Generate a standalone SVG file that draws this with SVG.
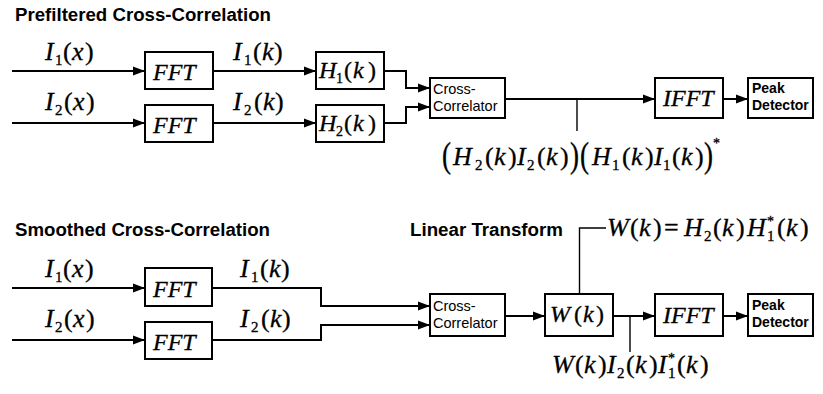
<svg xmlns="http://www.w3.org/2000/svg" width="823" height="394" viewBox="0 0 823 394">
<style>
.bg{fill:#fff}
.box{fill:#fff;stroke:#000;stroke-width:2}
.ln{fill:none;stroke:#000;stroke-width:2}
.tap{fill:none;stroke:#000;stroke-width:1.4}
.title{font-family:"Liberation Sans",Arial,sans-serif;font-weight:bold;font-size:17.5px;fill:#000}
.cc{font-family:"Liberation Sans",Arial,sans-serif;font-size:14.5px;fill:#000}
.pd{font-family:"Liberation Sans",Arial,sans-serif;font-weight:bold;font-size:14px;fill:#000}
.m{font-family:"Liberation Serif","Times New Roman",serif;font-style:italic;font-size:26px;fill:#000;stroke:#000;stroke-width:0.3}
.b{font-family:"Liberation Serif","Times New Roman",serif;font-style:italic;font-size:24px;fill:#000;stroke:#000;stroke-width:0.3}
.u{font-style:normal}
.s{font-style:normal;font-size:15px}
.st{font-style:normal;font-size:14px}
.bp{font-family:"Liberation Serif","Times New Roman",serif;font-size:27px;fill:#000;stroke:#000;stroke-width:0.3}
</style>
<defs>
<marker id="ah" markerUnits="userSpaceOnUse" markerWidth="12" markerHeight="10" refX="12" refY="4.5" orient="auto" viewBox="0 0 12 9">
<path d="M0,0 L12,4.5 L0,9 z" fill="#000"/>
</marker>
</defs>
<rect class="bg" x="0" y="0" width="823" height="394"/>

<text class="title" x="15" y="21" textLength="256" lengthAdjust="spacingAndGlyphs">Prefiltered Cross-Correlation</text>
<text class="title" x="15" y="236" textLength="255" lengthAdjust="spacingAndGlyphs">Smoothed Cross-Correlation</text>
<text class="title" x="410" y="236" textLength="153" lengthAdjust="spacingAndGlyphs">Linear Transform</text>

<g id="connectors">
<path class="ln" d="M12,71 H145" marker-end="url(#ah)"/>
<path class="ln" d="M12,123 H145" marker-end="url(#ah)"/>
<path class="ln" d="M213,71 H316" marker-end="url(#ah)"/>
<path class="ln" d="M213,123 H316" marker-end="url(#ah)"/>
<path class="ln" d="M384,71 H406 V88 H430" marker-end="url(#ah)"/>
<path class="ln" d="M384,123 H406 V107 H430" marker-end="url(#ah)"/>
<path class="ln" d="M505,99 H655" marker-end="url(#ah)"/>
<path class="ln" d="M723,99 H748" marker-end="url(#ah)"/>
<path class="tap" d="M577,99 V131"/>

<path class="ln" d="M12,288 H145" marker-end="url(#ah)"/>
<path class="ln" d="M12,340 H145" marker-end="url(#ah)"/>
<path class="ln" d="M212,288 H321 V306 H430" marker-end="url(#ah)"/>
<path class="ln" d="M212,340 H321 V325 H430" marker-end="url(#ah)"/>
<path class="ln" d="M505,316 H545" marker-end="url(#ah)"/>
<path class="ln" d="M613,316 H655" marker-end="url(#ah)"/>
<path class="ln" d="M723,316 H748" marker-end="url(#ah)"/>
<path class="tap" d="M630,316 V352"/>
<path class="tap" d="M579.5,294 V228 H606"/>
</g>

<g id="lbl-top-i1x"><text class="m" y="60"><tspan x="45">I</tspan><tspan class="s" x="55" dy="5">1</tspan><tspan class="u" x="63" dy="-5">(</tspan><tspan x="72">x</tspan><tspan class="u" x="85">)</tspan></text></g>
<g id="lbl-top-i2x"><text class="m" y="110"><tspan x="45">I</tspan><tspan class="s" x="55" dy="5">2</tspan><tspan class="u" x="64" dy="-5">(</tspan><tspan x="73">x</tspan><tspan class="u" x="86">)</tspan></text></g>
<g id="lbl-top-i1k"><text class="m" y="60"><tspan x="233">I</tspan><tspan class="s" x="244" dy="5">1</tspan><tspan class="u" x="253" dy="-5">(</tspan><tspan x="262">k</tspan><tspan class="u" x="274">)</tspan></text></g>
<g id="lbl-top-i2k"><text class="m" y="110"><tspan x="233">I</tspan><tspan class="s" x="244" dy="5">2</tspan><tspan class="u" x="254" dy="-5">(</tspan><tspan x="263">k</tspan><tspan class="u" x="275">)</tspan></text></g>

<g id="fft1"><rect class="box" x="145" y="52" width="68" height="37"/><text class="b" x="153" y="80">FFT</text></g>
<g id="fft2"><rect class="box" x="145" y="105" width="68" height="37"/><text class="b" x="153" y="133">FFT</text></g>
<g id="h1"><rect class="box" x="316" y="52" width="68" height="37"/><text class="b" y="78"><tspan x="319">H</tspan><tspan class="st" x="336" dy="5">1</tspan><tspan class="u" x="344" dy="-5">(</tspan><tspan x="353">k</tspan><tspan class="u" x="368">)</tspan></text></g>
<g id="h2"><rect class="box" x="316" y="105" width="68" height="37"/><text class="b" y="131"><tspan x="319">H</tspan><tspan class="st" x="336" dy="5">2</tspan><tspan class="u" x="344" dy="-5">(</tspan><tspan x="353">k</tspan><tspan class="u" x="368">)</tspan></text></g>
<g id="cc1"><rect class="box" x="430" y="78" width="75" height="40"/><text class="cc" x="433" y="94">Cross-</text><text class="cc" x="433" y="111">Correlator</text></g>
<g id="ifft1"><rect class="box" x="655" y="78" width="68" height="40"/><text class="b" x="663" y="106">IFFT</text></g>
<g id="pd1"><rect class="box" x="748" y="78" width="65" height="40"/><text class="pd" x="752" y="93">Peak</text><text class="pd" x="752" y="110">Detector</text></g>

<g id="eq-top">
<text class="bp" transform="translate(442,167) scale(1,1.3)">(</text>
<text class="m" y="165"><tspan x="453">H</tspan><tspan class="s" x="475" dy="5">2</tspan><tspan class="u" x="485" dy="-5">(</tspan><tspan x="494">k</tspan><tspan class="u" x="508">)</tspan><tspan x="517">I</tspan><tspan class="s" x="527" dy="5">2</tspan><tspan class="u" x="537" dy="-5">(</tspan><tspan x="546">k</tspan><tspan class="u" x="560">)</tspan></text>
<text class="bp" transform="translate(570,167) scale(1,1.3)">)</text>
<text class="bp" transform="translate(580,167) scale(1,1.3)">(</text>
<text class="m" y="165"><tspan x="592">H</tspan><tspan class="s" x="612" dy="5">1</tspan><tspan class="u" x="622" dy="-5">(</tspan><tspan x="631">k</tspan><tspan class="u" x="645">)</tspan><tspan x="654">I</tspan><tspan class="s" x="663" dy="5">1</tspan><tspan class="u" x="672" dy="-5">(</tspan><tspan x="681">k</tspan><tspan class="u" x="695">)</tspan></text>
<text class="bp" transform="translate(704,167) scale(1,1.3)">)</text>
<text class="m" x="713" y="148"><tspan class="st">*</tspan></text>
</g>

<g id="lbl-bot-i1x"><text class="m" y="277"><tspan x="45">I</tspan><tspan class="s" x="55" dy="5">1</tspan><tspan class="u" x="63" dy="-5">(</tspan><tspan x="72">x</tspan><tspan class="u" x="85">)</tspan></text></g>
<g id="lbl-bot-i2x"><text class="m" y="327"><tspan x="45">I</tspan><tspan class="s" x="55" dy="5">2</tspan><tspan class="u" x="64" dy="-5">(</tspan><tspan x="73">x</tspan><tspan class="u" x="86">)</tspan></text></g>
<g id="lbl-bot-i1k"><text class="m" y="277"><tspan x="240">I</tspan><tspan class="s" x="251" dy="5">1</tspan><tspan class="u" x="260" dy="-5">(</tspan><tspan x="269">k</tspan><tspan class="u" x="281">)</tspan></text></g>
<g id="lbl-bot-i2k"><text class="m" y="327"><tspan x="240">I</tspan><tspan class="s" x="251" dy="5">2</tspan><tspan class="u" x="261" dy="-5">(</tspan><tspan x="270">k</tspan><tspan class="u" x="282">)</tspan></text></g>

<g id="fft3"><rect class="box" x="145" y="268" width="67" height="38"/><text class="b" x="153" y="297">FFT</text></g>
<g id="fft4"><rect class="box" x="145" y="322" width="67" height="37"/><text class="b" x="153" y="350">FFT</text></g>
<g id="cc2"><rect class="box" x="430" y="294" width="75" height="42"/><text class="cc" x="433" y="311">Cross-</text><text class="cc" x="433" y="328">Correlator</text></g>
<g id="w"><rect class="box" x="545" y="294" width="68" height="42"/><text class="b" y="322"><tspan x="550">W</tspan><tspan class="u" x="574">(</tspan><tspan x="583">k</tspan><tspan class="u" x="596">)</tspan></text></g>
<g id="ifft2"><rect class="box" x="655" y="294" width="68" height="42"/><text class="b" x="663" y="323">IFFT</text></g>
<g id="pd2"><rect class="box" x="748" y="294" width="65" height="42"/><text class="pd" x="752" y="310">Peak</text><text class="pd" x="752" y="327">Detector</text></g>

<g id="eq-w">
<text class="m" y="236"><tspan x="607">W</tspan><tspan class="u" x="630">(</tspan><tspan x="639">k</tspan><tspan class="u" x="653">)</tspan><tspan class="u" x="664">=</tspan><tspan x="684">H</tspan><tspan class="s" x="704" dy="5">2</tspan><tspan class="u" x="713" dy="-5">(</tspan><tspan x="722">k</tspan><tspan class="u" x="736">)</tspan><tspan x="747">H</tspan><tspan class="s" x="767" dy="5">1</tspan><tspan class="st" x="767" dy="-15">*</tspan><tspan class="u" x="777" dy="10">(</tspan><tspan x="786">k</tspan><tspan class="u" x="800">)</tspan></text>
</g>

<g id="eq-bot">
<text class="m" y="373"><tspan x="552">W</tspan><tspan class="u" x="575">(</tspan><tspan x="584">k</tspan><tspan class="u" x="598">)</tspan><tspan x="607">I</tspan><tspan class="s" x="617" dy="5">2</tspan><tspan class="u" x="626" dy="-5">(</tspan><tspan x="635">k</tspan><tspan class="u" x="649">)</tspan><tspan x="658">I</tspan><tspan class="s" x="668" dy="5">1</tspan><tspan class="st" x="668" dy="-15">*</tspan><tspan class="u" x="677" dy="10">(</tspan><tspan x="686">k</tspan><tspan class="u" x="700">)</tspan></text>
</g>
</svg>
